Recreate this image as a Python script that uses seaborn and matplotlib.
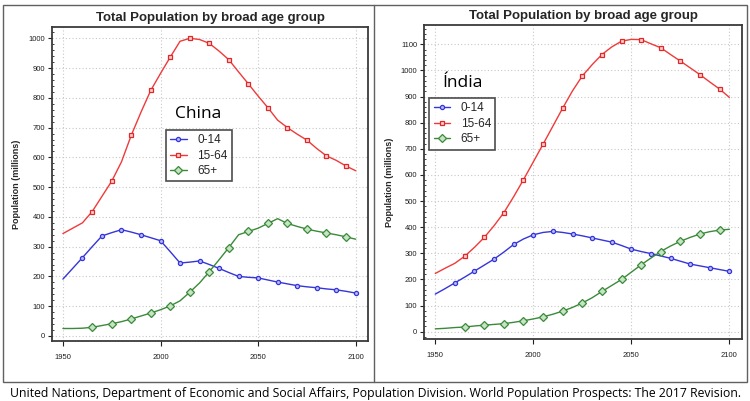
import matplotlib
matplotlib.use("Agg")
import matplotlib.pyplot as plt
from matplotlib.lines import Line2D
from matplotlib.ticker import MultipleLocator
import seaborn as sns
import pandas as pd

years = list(range(1950, 2101, 5))

china_0_14 = [191, 227, 263, 300, 336, 347, 357, 349, 340, 330, 320, 283, 245, 248, 252, 240,
              227, 213, 200, 197, 195, 188, 181, 175, 169, 165, 162, 158, 155, 150, 144]
china_15_64 = [344, 362, 380, 418, 469, 520, 585, 674, 752, 825, 882, 937, 990, 1000, 996, 983,
               957, 928, 887, 847, 806, 767, 725, 700, 678, 658, 630, 605, 590, 571, 555]
china_65 = [25, 25, 26, 29, 35, 41, 48, 57, 67, 77, 88, 101, 118, 147, 178, 216,
            256, 297, 340, 351, 362, 378, 394, 378, 368, 359, 352, 346, 340, 333, 325]

india_0_14 = [144, 165, 187, 209, 232, 255, 278, 305, 334, 355, 371, 380, 384, 380, 374, 367,
              359, 351, 343, 330, 316, 307, 299, 290, 281, 270, 259, 252, 245, 238, 231]
india_15_64 = [223, 243, 262, 289, 323, 361, 406, 456, 517, 582, 650, 718, 787, 856, 922, 979,
               1022, 1061, 1090, 1112, 1119, 1118, 1102, 1087, 1061, 1036, 1010, 984, 956, 929, 897]
india_65 = [11, 13, 16, 18, 22, 25, 28, 31, 36, 42, 49, 57, 67, 79, 93, 110,
            130, 154, 177, 200, 228, 256, 282, 307, 328, 346, 361, 374, 383, 389, 392]

age_groups = ["0-14", "15-64", "65+"]
countries = ["China", "Índia"]
title = "Total Population by broad age group"
ylabel = "Population (millions)"
caption = ("United Nations, Department of Economic and Social Affairs, Population Division. "
           "World Population Prospects: The 2017 Revision.")

sns.set_style("white")
plt.rcParams["font.family"] = ["Liberation Sans", "DejaVu Sans"]

styles = {
    "0-14": dict(color="#3535d8", marker="o", markersize=3.0, mfc="#b8bcff", mec="#3535d8",
                 markevery=slice(2, None, 2)),
    "15-64": dict(color="#f03a3a", marker="s", markersize=3.4, mfc="#ffd0d0", mec="#e02828",
                  markevery=slice(3, 30, 2)),
    "65+": dict(color="#3a8a3a", marker="D", markersize=3.8, mfc="#c4e4c4", mec="#3a8a3a",
                markevery=slice(3, 30, 2)),
}

fig = plt.figure(figsize=(7.5, 4.01), dpi=100)

panels = [
    dict(name=countries[0], data=[china_0_14, china_15_64, china_65],
         rect=[52 / 750, 60 / 401, 316 / 750, 314 / 401], ylim=(-17, 1038), ymax=1000,
         leg=(0.361, 0.672), txt=(0.39, 0.709)),
    dict(name=countries[1], data=[india_0_14, india_15_64, india_65],
         rect=[424.3 / 750, 61.7 / 401, 317.4 / 750, 314.3 / 401], ylim=(-29, 1174), ymax=1100,
         leg=(0.016, 0.767), txt=(0.058, 0.804)),
]

for p in panels:
    ax = fig.add_axes(p["rect"])
    for grp, vals in zip(age_groups, p["data"]):
        df = pd.DataFrame({"year": years, "value": vals})
        st = styles[grp]
        sns.lineplot(data=df, x="year", y="value", ax=ax, color=st["color"], linewidth=1.0,
                     marker=st["marker"], markersize=st["markersize"],
                     markerfacecolor=st["mfc"], markeredgecolor=st["mec"],
                     markeredgewidth=0.9, markevery=st["markevery"])
    ax.set_xlim(1944.4, 2106.3)
    ax.set_ylim(*p["ylim"])
    ax.set_xticks([1950, 2000, 2050, 2100])
    ax.set_yticks(list(range(0, p["ymax"] + 1, 100)))
    ax.yaxis.set_minor_locator(MultipleLocator(20))
    ax.grid(True, which="major", linestyle=(0, (1, 2)), color="#c8c8c8", linewidth=0.8)
    ax.tick_params(axis="both", which="major", labelsize=5.5, length=3, width=0.8,
                   color="#202020", labelcolor="#202020")
    ax.tick_params(axis="x", which="major", length=3.5, pad=6, bottom=True)
    ax.tick_params(axis="y", which="major", left=True, pad=2)
    ax.tick_params(axis="y", which="minor", left=True, direction="in", length=1.5, width=0.6,
                   color="#202020")
    for s in ax.spines.values():
        s.set_color("#3a3a3a")
        s.set_linewidth(1.3)
    ax.set_xlabel("")
    ax.set_ylabel(ylabel, fontsize=6.5, fontweight="bold", labelpad=5)
    ax.set_title(title, fontsize=9.5, fontweight="bold", pad=4)
    handles = [Line2D([], [], color=styles[g]["color"], linewidth=1.0, marker=styles[g]["marker"],
                      markersize=styles[g]["markersize"], markerfacecolor=styles[g]["mfc"],
                      markeredgecolor=styles[g]["mec"], markeredgewidth=0.9)
               for g in age_groups]
    leg = ax.legend(handles, age_groups, loc="upper left", bbox_to_anchor=p["leg"],
                    borderaxespad=0, fontsize=8.5, frameon=True, fancybox=False,
                    handlelength=1.4, handletextpad=0.9, labelspacing=0.3,
                    borderpad=0.35)
    leg.get_frame().set_edgecolor("#202020")
    leg.get_frame().set_linewidth(1.2)
    ax.text(p["txt"][0], p["txt"][1], p["name"], transform=ax.transAxes, fontsize=12.5,
            family=["Open Sans", "DejaVu Sans"], ha="left", va="baseline", color="#000000")

# panel borders
fig.add_artist(plt.Rectangle((3 / 750, 1 - 381.5 / 401), 743.5 / 750, 376.5 / 401,
                             transform=fig.transFigure, fill=False, edgecolor="#606060",
                             linewidth=1.0))
fig.add_artist(Line2D([373.5 / 750, 373.5 / 750], [1 - 381.5 / 401, 1 - 5 / 401],
                      transform=fig.transFigure, color="#606060", linewidth=1.0))

fig.text(375 / 750, 1 - 393 / 401, caption, ha="center", va="center", fontsize=8.8,
         family=["Open Sans", "DejaVu Sans"], color="#000000")

fig.savefig("out.png", dpi=100)
